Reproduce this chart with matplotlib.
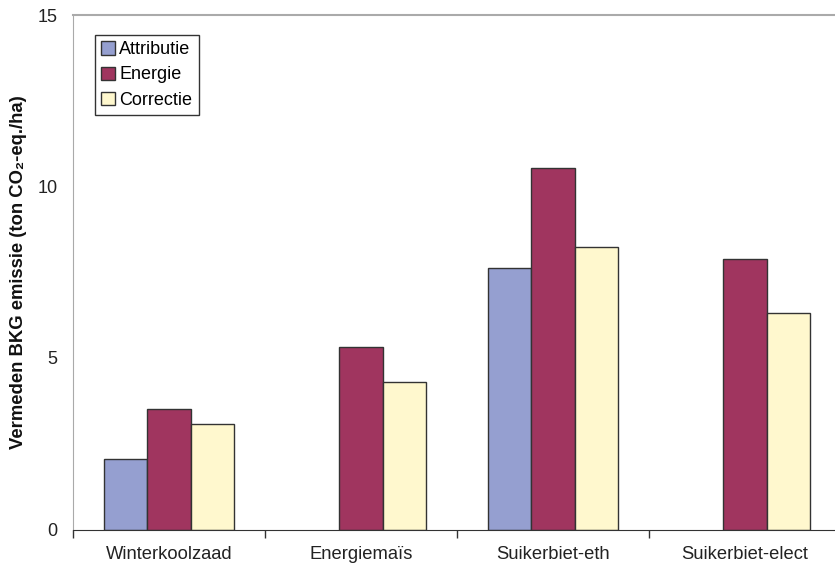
import numpy as np
import matplotlib.pyplot as plt

plt.rcParams['font.family'] = ['Liberation Sans', 'DejaVu Sans']

# emission data per crop (ton CO2-eq./ha)
crops = ['Winterkoolzaad', 'Energiemaïs', 'Suikerbiet-eth', 'Suikerbiet-elect']
attributie = [2.06, np.nan, 7.63, np.nan]
energie = [3.50, 5.33, 10.55, 7.89]
correctie = [3.07, 4.30, 8.23, 6.30]

series = [('Attributie', attributie, '#959fd0'),
          ('Energie', energie, '#a0355f'),
          ('Correctie', correctie, '#fff8ce')]

fig = plt.figure(figsize=(8.35, 5.7), dpi=100)
ax = fig.add_axes([73/835, 40.5/570, 768/835, 514.5/570])

x = np.arange(len(crops))
w = 0.224
for i, (name, vals, col) in enumerate(series):
    ax.bar(x + (i - 1)*w, vals, width=w, color=col, edgecolor='#333333',
           linewidth=1.0, label=name, zorder=2)

ax.set_xlim(-0.5, len(crops) - 0.5)
ax.set_ylim(0, 15)
ax.set_yticks([0, 5, 10, 15])
ax.tick_params(axis='y', length=0, pad=11, labelsize=13, colors='#222222')

# boundary ticks between categories, labels at the centres
ax.set_xticks(np.arange(len(crops) + 1) - 0.5)
ax.set_xticklabels([])
ax.set_xticks(x, minor=True)
ax.set_xticklabels(crops, minor=True, fontsize=13.2, color='#222222')
ax.tick_params(axis='x', which='major', length=6, color='#333333', width=1)
ax.tick_params(axis='x', which='minor', length=0, pad=12)

ax.spines['right'].set_visible(False)
ax.spines['top'].set_color('#aaaaaa')
ax.spines['left'].set_color('#aaaaaa')
ax.spines['bottom'].set_color('#333333')
ax.spines['top'].set_linewidth(1.5)

ax.set_ylabel('Vermeden BKG emissie (ton CO\u2082-eq./ha)', fontsize=13.3,
              fontweight='bold', color='#111111')
ax.yaxis.set_label_coords(-(73 - 27)/768, 0.5)

leg = ax.legend(loc='upper left', bbox_to_anchor=(22/768, 494.5/514.5),
                borderaxespad=0, fancybox=False, framealpha=1, fontsize=13,
                handlelength=0.75, handleheight=0.75, handletextpad=0.25,
                labelspacing=0.45, borderpad=0.35)
leg.get_frame().set_edgecolor('#333333')
leg.get_frame().set_linewidth(1.0)

fig.savefig('out.png', dpi=100)
